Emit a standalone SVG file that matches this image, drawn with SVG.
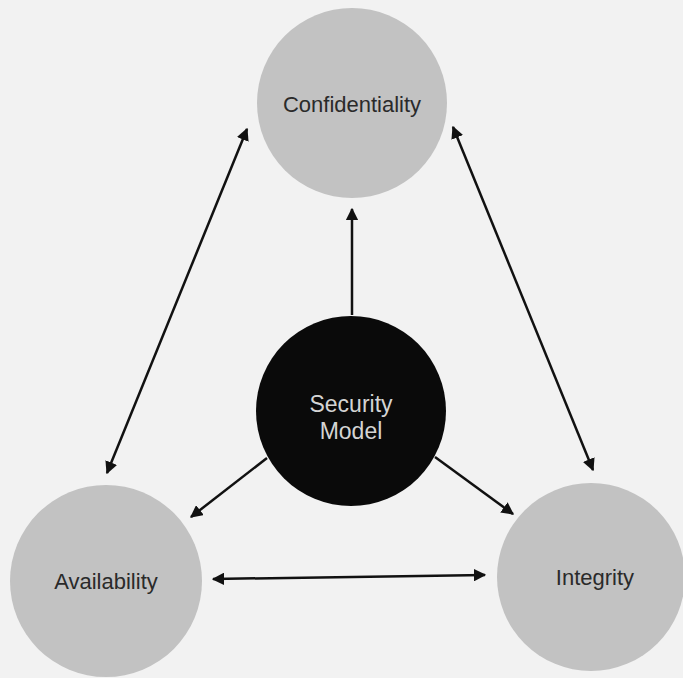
<svg xmlns="http://www.w3.org/2000/svg" width="683" height="678" viewBox="0 0 683 678">
  <style>
    .bg { fill: #f2f2f2; }
    .grey { fill: #c2c2c2; }
    .dark { fill: #0a0a0a; }
    .lbl { font-family: "Liberation Sans", Arial, sans-serif; font-size: 22px; fill: #2a2a2a; text-anchor: middle; }
    .lbl-inv { font-family: "Liberation Sans", Arial, sans-serif; font-size: 23px; fill: #d4d4d4; text-anchor: middle; }
    .conn { stroke: #111; stroke-width: 2.5; fill: none; }
  </style>
  <defs>
    <marker id="ah" viewBox="0 0 10 10" refX="9" refY="5" markerWidth="5" markerHeight="5" markerUnits="strokeWidth" orient="auto-start-reverse">
      <path d="M0,0 L10,5 L0,10 z" fill="#111"/>
    </marker>
  </defs>
  <rect class="bg" x="0" y="0" width="683" height="678"/>

  <g id="confidentiality">
    <circle class="grey" cx="352" cy="103" r="95"/>
    <text class="lbl" x="352" y="112">Confidentiality</text>
  </g>
  <g id="security-model">
    <circle class="dark" cx="351" cy="411" r="95"/>
    <text class="lbl-inv" x="351" y="412">Security</text>
    <text class="lbl-inv" x="351" y="439">Model</text>
  </g>
  <g id="availability">
    <circle class="grey" cx="106" cy="581" r="96"/>
    <text class="lbl" x="106" y="589">Availability</text>
  </g>
  <g id="integrity">
    <circle class="grey" cx="591" cy="577" r="94"/>
    <text class="lbl" x="595" y="585">Integrity</text>
  </g>

  <g id="connectors">
    <line class="conn" x1="352" y1="315" x2="352" y2="209" marker-end="url(#ah)"/>
    <line class="conn" x1="247" y1="129" x2="107" y2="473" marker-start="url(#ah)" marker-end="url(#ah)"/>
    <line class="conn" x1="453" y1="127" x2="593" y2="470" marker-start="url(#ah)" marker-end="url(#ah)"/>
    <line class="conn" x1="267" y1="458" x2="191" y2="517" marker-end="url(#ah)"/>
    <line class="conn" x1="435" y1="457" x2="513" y2="514" marker-end="url(#ah)"/>
    <line class="conn" x1="213" y1="579" x2="485" y2="575" marker-start="url(#ah)" marker-end="url(#ah)"/>
  </g>
</svg>
